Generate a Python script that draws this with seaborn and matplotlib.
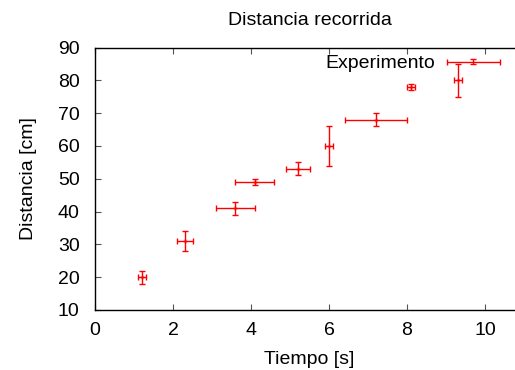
import numpy as np
import pandas as pd
import matplotlib
matplotlib.use('Agg')
import matplotlib.pyplot as plt
import seaborn as sns
from matplotlib.legend_handler import HandlerErrorbar

# datos medidos
tiempo = [1.2, 2.3, 3.6, 4.1, 5.2, 6.0, 7.2, 8.1, 9.3]
tiempo_err = [0.1, 0.2, 0.5, 0.5, 0.3, 0.1, 0.8, 0.1, 0.1]
distancia = [20, 31, 41, 49, 53, 60, 68, 78, 80]
distancia_err = [2, 3, 2, 1, 2, 6, 2, 1, 5]

xticks = [0, 2, 4, 6, 8, 10]
yticks = [10, 20, 30, 40, 50, 60, 70, 80, 90]

df = pd.DataFrame({'t': tiempo, 'dt': tiempo_err, 'd': distancia, 'dd': distancia_err})

sns.set_style('ticks')
plt.rcParams['font.family'] = ['Liberation Sans', 'DejaVu Sans']
plt.rcParams['font.size'] = 14
plt.rcParams['text.color'] = 'black'
plt.rcParams['axes.labelcolor'] = 'black'
plt.rcParams['xtick.labelcolor'] = 'black'
plt.rcParams['ytick.labelcolor'] = 'black'

fig = plt.figure(figsize=(5.15, 3.7), dpi=100)
ax = fig.add_axes([95 / 515, 1 - 310 / 370, 429 / 515, 262.5 / 370])

eb = ax.errorbar(df['t'], df['d'], xerr=df['dt'], yerr=df['dd'], fmt='none',
                 ecolor='#ff0000', elinewidth=1.0, capsize=2.5, capthick=1.0,
                 label='Experimento')
sns.scatterplot(data=df, x='t', y='d', ax=ax, marker='+', color='#ff0000',
                s=12, linewidth=1.0, legend=False)

ax.set_xlim(0, 11)
ax.set_ylim(10, 90)
ax.set_xticks(xticks)
ax.set_yticks(yticks)
ax.tick_params(direction='in', length=4, width=0.8, color='#555555',
               top=True, right=True)
ax.tick_params(axis='x', pad=8.5)
ax.tick_params(axis='y', pad=11)
for s in ax.spines.values():
    s.set_linewidth(1.0)
    s.set_color('black')

ax.set_xlabel('Tiempo [s]', labelpad=9)
ax.set_ylabel('Distancia [cm]', labelpad=15)
fig.text(309.5 / 515, 1 - 25 / 370, 'Distancia recorrida', ha='center', va='baseline')

ax.legend(handles=[eb], loc='upper right', bbox_to_anchor=(405 / 429, 0.972),
          frameon=False, markerfirst=False, borderpad=0, borderaxespad=0,
          handlelength=2.75, handletextpad=0.6,
          handler_map={type(eb): HandlerErrorbar(xerr_size=1.37, yerr_size=0.12)})

fig.savefig('out.png', dpi=100)
